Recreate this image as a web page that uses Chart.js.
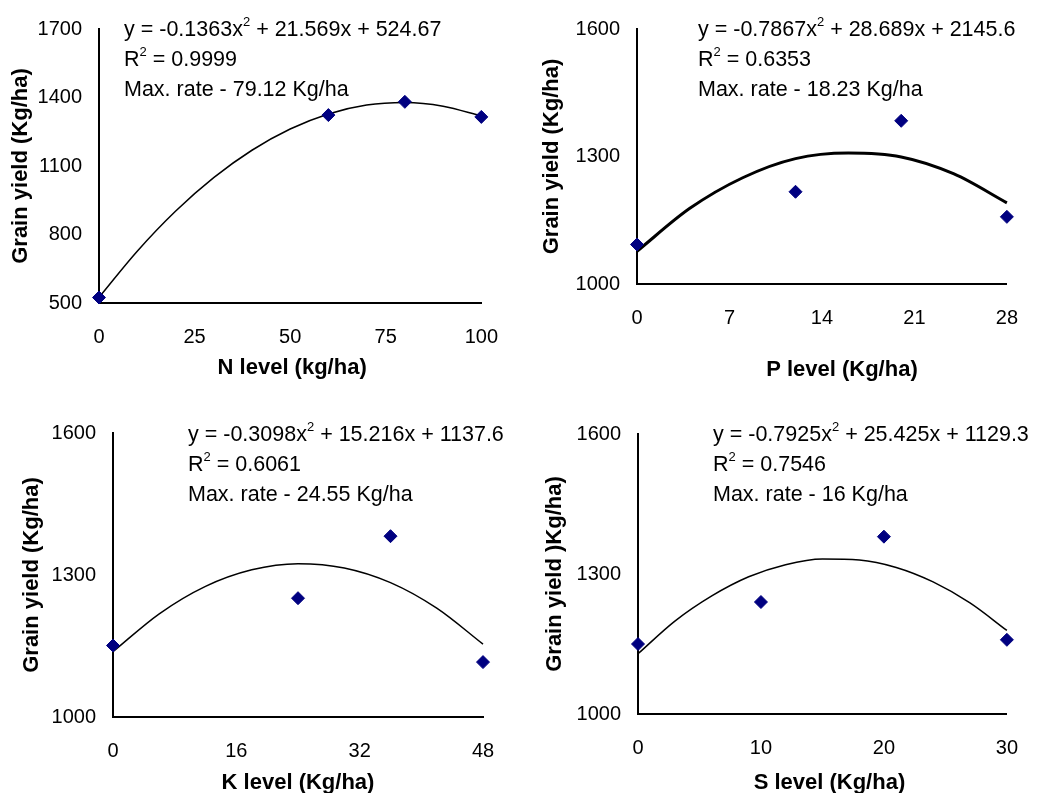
<html><head>
<meta charset="UTF-8">
<title>Grain yield response</title>
<script src="https://cdn.jsdelivr.net/npm/chart.js"></script>
<style>
* { margin: 0; padding: 0; box-sizing: border-box; }
body { background: #fff; width: 1040px; height: 793px; position: relative; overflow: hidden; }
.panel { position: absolute; }
</style>
</head>
<body>
<div class="panel" style="left:0;top:0"><canvas id="chartN" width="520" height="395"></canvas></div>
<div class="panel" style="left:520px;top:0"><canvas id="chartP" width="520" height="395"></canvas></div>
<div class="panel" style="left:0;top:400px"><canvas id="chartK" width="520" height="393"></canvas></div>
<div class="panel" style="left:520px;top:400px"><canvas id="chartS" width="520" height="393"></canvas></div>

<script>
const FONT = '"Liberation Sans", Arial, sans-serif';

// N
const nLevels = [0, 60, 80, 100];
const nYield = [524, 1323, 1381, 1315];
const nCurveX = [0, 10, 20, 30, 40, 50, 60, 70, 80, 90, 100];
const nCurveY = [525, 727, 902, 1049, 1169, 1262, 1328, 1367, 1378, 1362, 1319];
const nTicksX = [0, 25, 50, 75, 100];
const nTicksY = [500, 800, 1100, 1400, 1700];
const nNote = ['y = -0.1363x^2 + 21.569x + 524.67', 'R^2 = 0.9999', 'Max. rate - 79.12 Kg/ha'];

// P
const pLevels = [0, 12, 20, 28];
const pYield = [1093, 1217, 1384, 1158];
const pCurveX = [0, 4, 8, 12, 16, 20, 24, 28];
const pCurveY = [1077, 1178, 1250, 1295, 1308, 1299, 1259, 1191];
const pTicksX = [0, 7, 14, 21, 28];
const pTicksY = [1000, 1300, 1600];
const pNote = ['y = -0.7867x^2 + 28.689x + 2145.6', 'R^2 = 0.6353', 'Max. rate - 18.23 Kg/ha'];

// K
const kLevels = [0, 24, 36, 48];
const kYield = [1151, 1251, 1382, 1116];
const kCurveX = [0, 6, 12, 18, 24, 30, 36, 42, 48];
const kCurveY = [1138, 1218, 1276, 1311, 1324, 1315, 1284, 1230, 1154];
const kTicksX = [0, 16, 32, 48];
const kTicksY = [1000, 1300, 1600];
const kNote = ['y = -0.3098x^2 + 15.216x + 1137.6', 'R^2 = 0.6061', 'Max. rate - 24.55 Kg/ha'];

// S
const sLevels = [0, 10, 20, 30];
const sYield = [1150, 1240, 1380, 1159];
const sCurveX = [0, 3, 6, 9, 12, 15, 18, 21, 24, 27, 30];
const sCurveY = [1129, 1199, 1253, 1294, 1320, 1332, 1330, 1314, 1283, 1238, 1179];
const sTicksX = [0, 10, 20, 30];
const sTicksY = [1000, 1300, 1600];
const sNote = ['y = -0.7925x^2 + 25.425x + 1129.3', 'R^2 = 0.7546', 'Max. rate - 16 Kg/ha'];

// equation text block + x axis title
function notePlugin(p) {
  return {
    id: 'note',
    afterDraw(chart) {
      const ctx = chart.ctx, a = chart.chartArea;
      ctx.save();
      ctx.fillStyle = '#000';
      ctx.textBaseline = 'middle';
      p.note.forEach((line, i) => {
        let x = a.left + p.noteDx;
        const y = a.top + p.noteDy + i * 30;
        line.split(/(\^2)/).forEach(part => {
          if (part === '^2') {
            ctx.font = '13px ' + FONT;
            ctx.fillText('2', x, y - 8);
            x += ctx.measureText('2').width;
          } else {
            ctx.font = '21.5px ' + FONT;
            ctx.fillText(part, x, y);
            x += ctx.measureText(part).width;
          }
        });
      });
      ctx.font = 'bold 22px ' + FONT;
      ctx.textAlign = 'center';
      ctx.fillText(p.xTitle, (a.left + a.right) / 2 + p.xTitleShift, chart.height - p.xTitleOff);
      ctx.restore();
    }
  };
}

function makeChart(id, p) {
  const w = p.w, h = p.h, a = p.area;
  const points = p.levels.map((v, i) => ({x: v, y: p.yield[i]}));
  const curve = p.curveX.map((v, i) => ({x: v, y: p.curveY[i]}));
  return new Chart(document.getElementById(id), {
    type: 'scatter',
    data: {
      datasets: [{
        data: points,
        pointStyle: 'rectRot',
        pointRadius: 6.5,
        pointBackgroundColor: '#000080',
        pointBorderColor: '#000080',
        pointBorderWidth: 1,
        showLine: false,
        clip: false
      }, {
        data: curve,
        showLine: true,
        pointRadius: 0,
        borderColor: '#000',
        borderWidth: p.lineW,
        cubicInterpolationMode: 'monotone',
        fill: false,
        clip: false
      }]
    },
    options: {
      responsive: false,
      animation: false,
      events: [],
      layout: { padding: { top: a.t, right: w - a.r, left: 0, bottom: 0 } },
      plugins: { legend: { display: false }, tooltip: { enabled: false } },
      scales: {
        x: {
          type: 'linear',
          min: p.ticksX[0], max: p.ticksX[p.ticksX.length - 1],
          afterBuildTicks: s => { s.ticks = p.ticksX.map(v => ({value: v})); },
          afterFit: s => { s.height = h - a.b; },
          grid: { display: false, drawTicks: false },
          border: { display: true, color: '#000', width: 2 },
          ticks: { color: '#000', padding: 22, maxRotation: 0, font: { family: FONT, size: 20 },
                   callback: v => String(v) },
          title: { display: false }
        },
        y: {
          type: 'linear',
          min: p.ticksY[0], max: p.ticksY[p.ticksY.length - 1],
          afterBuildTicks: s => { s.ticks = p.ticksY.map(v => ({value: v})); },
          afterFit: s => { s.width = a.l; },
          grid: { display: false, drawTicks: false },
          border: { display: true, color: '#000', width: 2 },
          ticks: { color: '#000', padding: 17, font: { family: FONT, size: 20 },
                   callback: v => String(v) },
          title: { display: true, text: p.yTitle, color: '#000',
                   font: { family: FONT, size: 22, weight: 'bold', lineHeight: 1 },
                   padding: { top: p.yTitleX - 11, bottom: 0 } }
        }
      }
    },
    plugins: [notePlugin(p)]
  });
}

makeChart('chartN', {
  w: 520, h: 395, area: {l: 99, t: 25, r: 487, b: 303},
  levels: nLevels, yield: nYield, curveX: nCurveX, curveY: nCurveY,
  ticksX: nTicksX, ticksY: nTicksY, lineW: 1.5,
  xTitle: 'N level (kg/ha)', yTitle: 'Grain yield (Kg/ha)',
  xTitleOff: 27, xTitleShift: 2, yTitleX: 21, note: nNote, noteDx: 25, noteDy: 1
});
makeChart('chartP', {
  w: 520, h: 395, area: {l: 117, t: 25, r: 506, b: 284},
  levels: pLevels, yield: pYield, curveX: pCurveX, curveY: pCurveY,
  ticksX: pTicksX, ticksY: pTicksY, lineW: 3,
  xTitle: 'P level (Kg/ha)', yTitle: 'Grain yield (Kg/ha)',
  xTitleOff: 25, xTitleShift: 20, yTitleX: 32, note: pNote, noteDx: 61, noteDy: 1
});
makeChart('chartK', {
  w: 520, h: 393, area: {l: 113, t: 33, r: 483, b: 317},
  levels: kLevels, yield: kYield, curveX: kCurveX, curveY: kCurveY,
  ticksX: kTicksX, ticksY: kTicksY, lineW: 1.5,
  xTitle: 'K level (Kg/ha)', yTitle: 'Grain yield (Kg/ha)',
  xTitleOff: 10, xTitleShift: 0, yTitleX: 32, note: kNote, noteDx: 75, noteDy: 2
});
makeChart('chartS', {
  w: 520, h: 393, area: {l: 118, t: 34, r: 502, b: 314},
  levels: sLevels, yield: sYield, curveX: sCurveX, curveY: sCurveY,
  ticksX: sTicksX, ticksY: sTicksY, lineW: 1.5,
  xTitle: 'S level (Kg/ha)', yTitle: 'Grain yield )Kg/ha)',
  xTitleOff: 10, xTitleShift: 7, yTitleX: 35, note: sNote, noteDx: 75, noteDy: 1
});
</script>
</body></html>
